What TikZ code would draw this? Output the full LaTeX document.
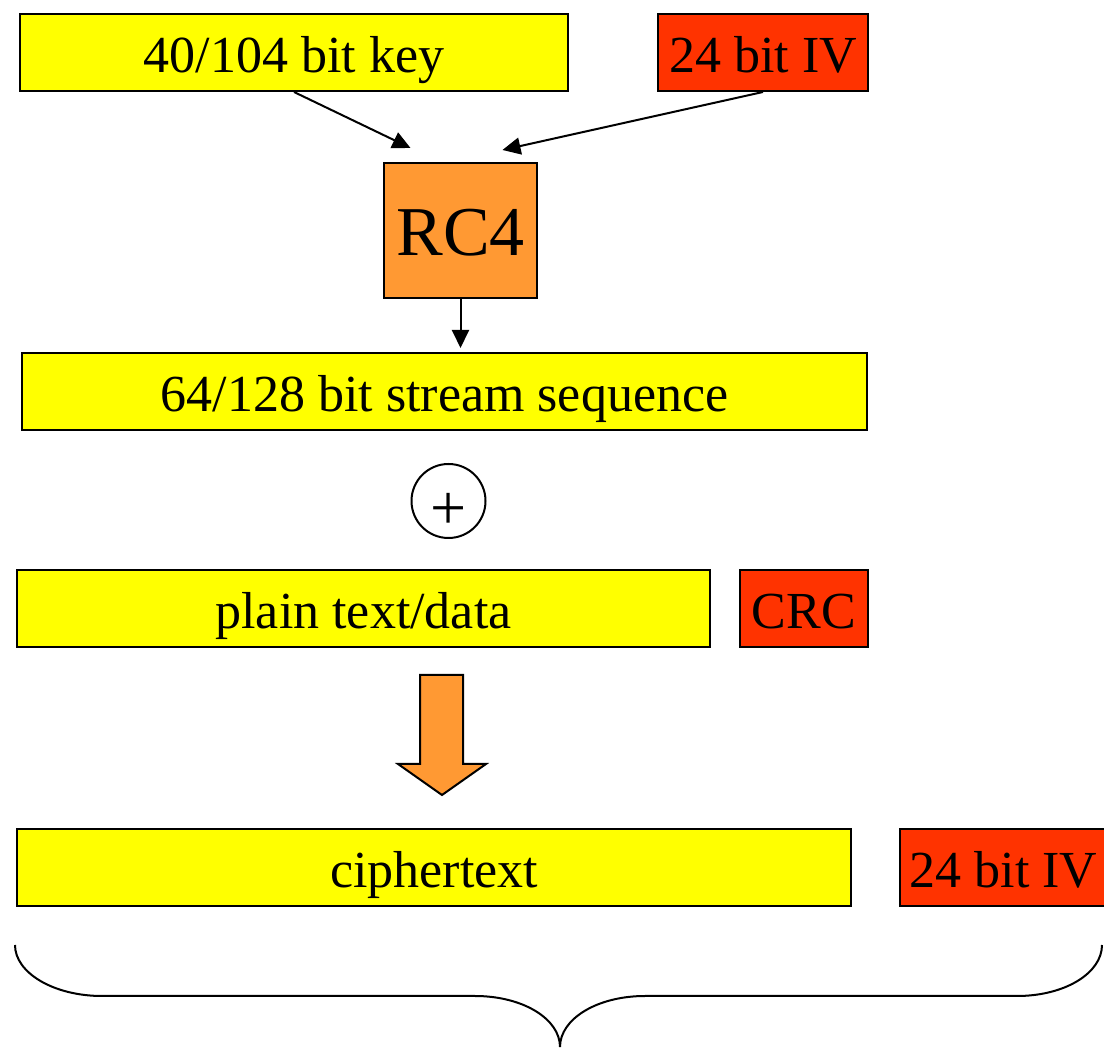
\documentclass[tikz,border=0pt]{standalone}
\usepackage{fontspec}
\setmainfont{Liberation Serif}
\usetikzlibrary{arrows.meta, positioning, calc}
\definecolor{wepyellow}{HTML}{FFFF00}
\definecolor{wepred}{HTML}{FF3300}
\definecolor{weporange}{HTML}{FF9933}

\begin{document}
\begin{tikzpicture}[
    x=0.5pt, y=-0.5pt,
    field/.style={draw, line width=1pt, inner sep=0pt, minimum height=38.5pt,
        text height=20pt, text depth=0pt, font=\fontsize{26}{30}\selectfont},
    databox/.style={field, fill=wepyellow},
    ivbox/.style={field, fill=wepred},
    cipherbox/.style={draw, line width=1pt, fill=weporange, inner sep=0pt,
        minimum width=76.5pt, minimum height=67.5pt, text height=25.5pt,
        text depth=0pt, font=\fontsize{35}{40}\selectfont},
    xorsym/.style={draw, circle, line width=1pt, inner sep=0pt, minimum size=37pt,
        text height=29pt, text depth=0pt, font=\fontsize{32}{34}\selectfont},
    arrow/.style={-{Triangle[length=9pt, width=8.5pt]}, line width=1pt}
]
    \useasboundingbox (0,0) rectangle (1104,1052);
    % inputs
    \node[databox, minimum width=274pt] (key) at (294, 52.5) {40/104 bit key};
    \node[ivbox, minimum width=105pt] (ivtop) at (763, 52.5) {24 bit IV};
    \node[cipherbox] (rc4) at (460.5, 230.5) {RC4};
    \draw[arrow] (key.south) -- ($(rc4.north)+(-50,-14)$);
    \draw[arrow] (ivtop.south) -- ($(rc4.north)+(42,-12)$);
    % keystream
    \node[databox, minimum width=422.5pt] (stream) at (444.5, 391.5) {64/128 bit stream sequence};
    \draw[arrow, shorten >=2pt] (rc4.south) -- (rc4.south |- stream.north);
    \node[xorsym] (xor) at (448.5, 501) {+};
    % plaintext + icv
    \node[databox, minimum width=346.5pt] (plain) at (363.5, 609) {plain text/data};
    \node[ivbox, minimum width=64pt] (crc) at (804, 609) {CRC};
    \draw[line width=1pt, fill=weporange]
        (420, 675) -- (463, 675) -- (463, 764) -- (486, 764) -- (442, 795)
        -- (398, 764) -- (420, 764) -- cycle;
    % output frame
    \node[databox, minimum width=417pt] (cipher) at (434, 867.5) {ciphertext};
    \node[ivbox, minimum width=103.5pt] (ivbot) at (1003.5, 867.5) {24 bit IV};
    \draw[line width=1pt]
        (15, 945) .. controls (15, 973) and (54, 996) .. (102, 996) -- (475, 996)
        .. controls (523, 996) and (560, 1019) .. (560, 1047)
        .. controls (560, 1019) and (597, 996) .. (645, 996) -- (1017, 996)
        .. controls (1065, 996) and (1102, 973) .. (1102, 945);
\end{tikzpicture}
\end{document}
